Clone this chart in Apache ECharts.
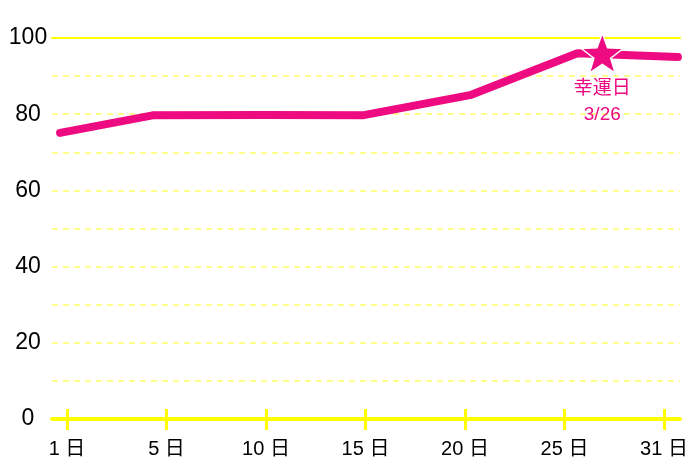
<!DOCTYPE html>
<html><head><meta charset="utf-8">
<script src="https://cdn.jsdelivr.net/npm/echarts@6/dist/echarts.min.js"></script>
<style>html,body{margin:0;padding:0;background:#fff}#c{width:700px;height:467px}</style>
</head><body><div id="c"></div>
<script>
// x positions are in tick-index units (0 = "1日", 6 = "31日")
var tickLabels = ['1 日', '5 日', '10 日', '15 日', '20 日', '25 日', '31 日'];
var tickPositions = [0, 1, 2, 3, 4, 5, 6];
var lineX = [-0.07, 0.86, 1.99, 2.97, 4.05, 5.13, 6.14];
var lineY = [75.1, 79.7, 79.8, 79.7, 85.0, 96.0, 95.0];
var yTicks = [0, 20, 40, 60, 80, 100];
var luckyDay = [5.38, 96.0];
var luckyLabel = '幸運日\n3/26';

var pink = '#EE0A80';
var font = '"Liberation Sans", "Noto Sans CJK JP", sans-serif';
var starPath = 'path://M95.1,0 L119,66 L190.2,69.1 L133,113 L153.9,180.9 L95.1,141 L36.3,180.9 L57.2,113 L0,69.1 L71.2,66 Z';

var chart = echarts.init(document.getElementById('c'), null, {renderer: 'canvas'});
var xMin = -0.151, xMax = 6.161;
chart.setOption({
  animation: false,
  grid: {left: 52, right: 20, top: 38, bottom: 48, containLabel: false},
  xAxis: [{
    type: 'value', min: xMin, max: xMax, position: 'bottom',
    axisLine: {show: true, lineStyle: {color: '#FFFF00', width: 4}},
    axisTick: {show: true, customValues: tickPositions, length: 11, lineStyle: {color: '#FFFF00', width: 3}},
    axisLabel: {show: true, customValues: tickPositions, margin: 20, color: '#000', fontFamily: font, fontSize: 20,
      formatter: function (v) { var i = tickPositions.indexOf(Math.round(v)); return i >= 0 ? tickLabels[i] : ''; }},
    splitLine: {show: false}
  }, {
    type: 'value', min: xMin, max: xMax, position: 'bottom',
    axisLine: {show: false},
    axisTick: {show: true, inside: true, customValues: tickPositions, length: 10, lineStyle: {color: '#FFFF00', width: 3}},
    axisLabel: {show: false}, splitLine: {show: false}
  }, {
    type: 'value', min: xMin, max: xMax, position: 'top',
    axisLine: {show: true, lineStyle: {color: '#FFFF00', width: 2}},
    axisTick: {show: false}, axisLabel: {show: false}, splitLine: {show: false}
  }],
  yAxis: {
    type: 'value', min: 0, max: 100, interval: 10,
    axisLine: {show: false}, axisTick: {show: false},
    axisLabel: {color: '#000', fontFamily: font, fontSize: 23, align: 'center', margin: 24,
      formatter: function (v) { return yTicks.indexOf(v) >= 0 ? String(v) : ''; }},
    splitLine: {show: true, lineStyle: {color: '#FFFF66', width: 1.5, type: [6, 5]}}
  },
  series: [{
    type: 'line', xAxisIndex: 0,
    data: lineX.map(function (x, i) { return [x, lineY[i]]; }),
    symbol: 'none', smooth: false,
    lineStyle: {color: pink, width: 8, cap: 'round', join: 'round'},
    z: 3
  }, {
    type: 'scatter', xAxisIndex: 0,
    data: [luckyDay],
    symbol: starPath, symbolSize: 42, symbolKeepAspect: true,
    itemStyle: {color: pink, opacity: 1, borderColor: '#fff', borderWidth: 1.5},
    label: {show: true, position: 'bottom', distance: 2, formatter: luckyLabel,
      color: pink, fontFamily: font, fontSize: 19, lineHeight: 26, align: 'center'},
    z: 5
  }]
});
</script></body></html>
